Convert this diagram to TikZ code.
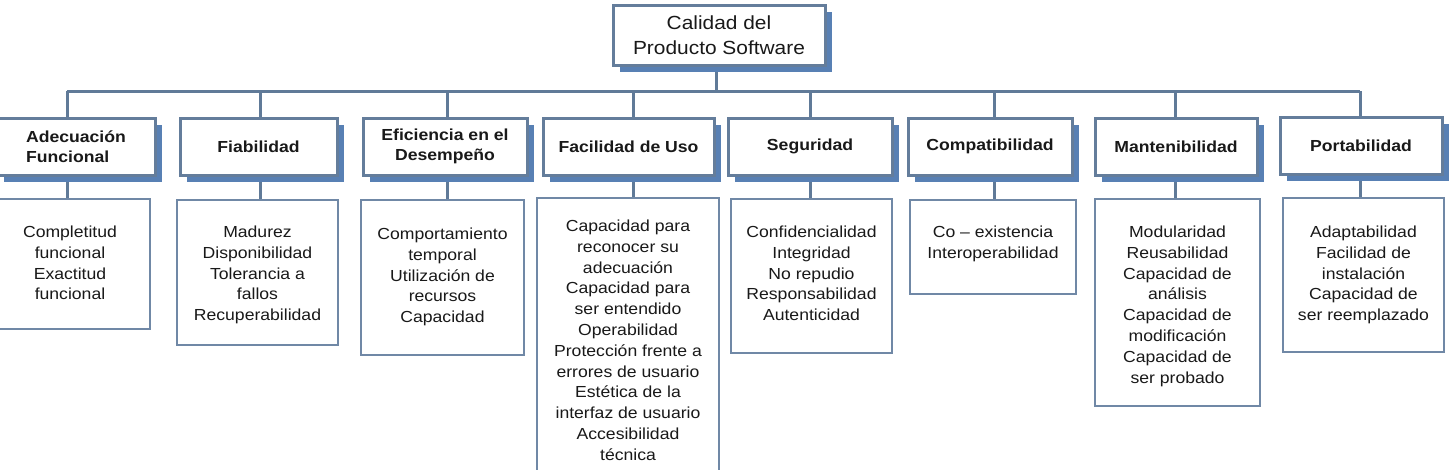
\documentclass[tikz,border=0pt]{standalone}
\usepackage{fontspec}
\setmainfont{Liberation Sans}[FakeStretch=1.1]
\usetikzlibrary{shadows}
\pgfdeclarelayer{bg}
\pgfsetlayers{bg,main}
\definecolor{linec}{RGB}{96,122,152}
\definecolor{boxc}{RGB}{100,125,155}
\definecolor{subc}{RGB}{112,136,166}
\definecolor{shadc}{RGB}{88,128,180}
\definecolor{txtc}{RGB}{25,25,25}
\begin{document}
\begin{tikzpicture}[x=1pt,y=-1pt,
  conn/.style={draw=linec,line width=3pt},
  rootbox/.style={draw=boxc,line width=3pt,fill=white,inner sep=0pt,text=txtc,
    align=center,font=\fontsize{19}{25}\selectfont,
    drop shadow={shadow xshift=7pt,shadow yshift=-7pt,opacity=1,fill=shadc}},
  catbox/.style={draw=boxc,line width=3pt,fill=white,inner sep=0pt,text=txtc,
    align=center,font=\fontsize{16}{20}\selectfont\bfseries,minimum height=57pt,
    drop shadow={shadow xshift=7pt,shadow yshift=-7pt,opacity=1,fill=shadc}},
  subbox/.style={draw=subc,line width=2.5pt,fill=white,inner sep=0pt},
  subtxt/.style={anchor=north,inner sep=0pt,align=center,text=txtc,
    font=\fontsize{16}{20.8}\selectfont}]
\useasboundingbox (0,0) rectangle (1454,469);

% root
\node[rootbox,minimum width=212pt,minimum height=60pt] (root) at (719,35) {Calidad del\\Producto Software};

% categories
\node[catbox,minimum width=158pt,align=left] (a) at (76,146.5) {Adecuación\\Funcional};
\node[catbox,minimum width=157pt] (b) at (258.5,146.5) {Fiabilidad};
\node[catbox,minimum width=164pt] (c) at (445,146.5) {Eficiencia en el\\Desempeño};
\node[catbox,minimum width=171pt] (d) at (628.5,146.5) {Facilidad de Uso};
\node[catbox,minimum width=164pt] (e) at (810,146.5) {Seguridad};
\node[catbox,minimum width=164pt] (f) at (990,146.5) {Compatibilidad};
\node[catbox,minimum width=162pt] (g) at (1176,146.5) {Mantenibilidad};
\node[catbox,minimum width=162pt] (h) at (1361,145.5) {Portabilidad};

% sub boxes
\node[subbox,minimum width=160pt,minimum height=130pt] (s1) at (70,264) {};
\node[subbox,minimum width=161pt,minimum height=145pt] (s2) at (257.5,272.5) {};
\node[subbox,minimum width=163pt,minimum height=155pt] (s3) at (442.5,277.5) {};
\node[subbox,minimum width=182pt,minimum height=292pt] (s4) at (628,344) {};
\node[subbox,minimum width=161pt,minimum height=154pt] (s5) at (811.5,276) {};
\node[subbox,minimum width=166pt,minimum height=94pt] (s6) at (993,247) {};
\node[subbox,minimum width=165pt,minimum height=207pt] (s7) at (1177.5,302.5) {};
\node[subbox,minimum width=161pt,minimum height=154pt] (s8) at (1363.5,275) {};

\node[subtxt] (t1) at ([yshift=-28pt]s1.north) {Completitud\\funcional\\Exactitud\\funcional};
\node[subtxt] (t2) at ([yshift=-27pt]s2.north) {Madurez\\Disponibilidad\\Tolerancia a\\fallos\\Recuperabilidad};
\node[subtxt] (t3) at ([yshift=-29pt]s3.north) {Comportamiento\\temporal\\Utilización de\\recursos\\Capacidad};
\node[subtxt] (t4) at ([yshift=-23pt]s4.north) {Capacidad para\\reconocer su\\adecuación\\Capacidad para\\ser entendido\\Operabilidad\\Protección frente a\\errores de usuario\\Estética de la\\interfaz de usuario\\Accesibilidad\\técnica};
\node[subtxt] (t5) at ([yshift=-28pt]s5.north) {Confidencialidad\\Integridad\\No repudio\\Responsabilidad\\Autenticidad};
\node[subtxt] (t6) at ([yshift=-27pt]s6.north) {Co – existencia\\Interoperabilidad};
\node[subtxt] (t7) at ([yshift=-28pt]s7.north) {Modularidad\\Reusabilidad\\Capacidad de\\análisis\\Capacidad de\\modificación\\Capacidad de\\ser probado};
\node[subtxt] (t8) at ([yshift=-29pt]s8.north) {Adaptabilidad\\Facilidad de\\instalación\\Capacidad de\\ser reemplazado};

% connector coordinates
\coordinate (tr) at (716,91);
\coordinate (ta) at (67,91);
\coordinate (tb) at (260,91);
\coordinate (tc) at (447,91);
\coordinate (td) at (633,91);
\coordinate (te) at (810,91);
\coordinate (tf) at (994,91);
\coordinate (tg) at (1175,91);
\coordinate (th) at (1360,91);

\begin{pgfonlayer}{bg}
\draw[conn] (root.south -| tr) -- (tr);
\draw[conn] (ta) -- (th);
\foreach \t/\c/\s in {ta/a/s1,tb/b/s2,tc/c/s3,td/d/s4,te/e/s5,tf/f/s6,tg/g/s7,th/h/s8}{
  \draw[conn] (\t) -- (\t |- \c.north);
  \draw[conn] (\t |- \c.south) -- (\t |- \s.north);
}
\end{pgfonlayer}
\end{tikzpicture}
\end{document}
